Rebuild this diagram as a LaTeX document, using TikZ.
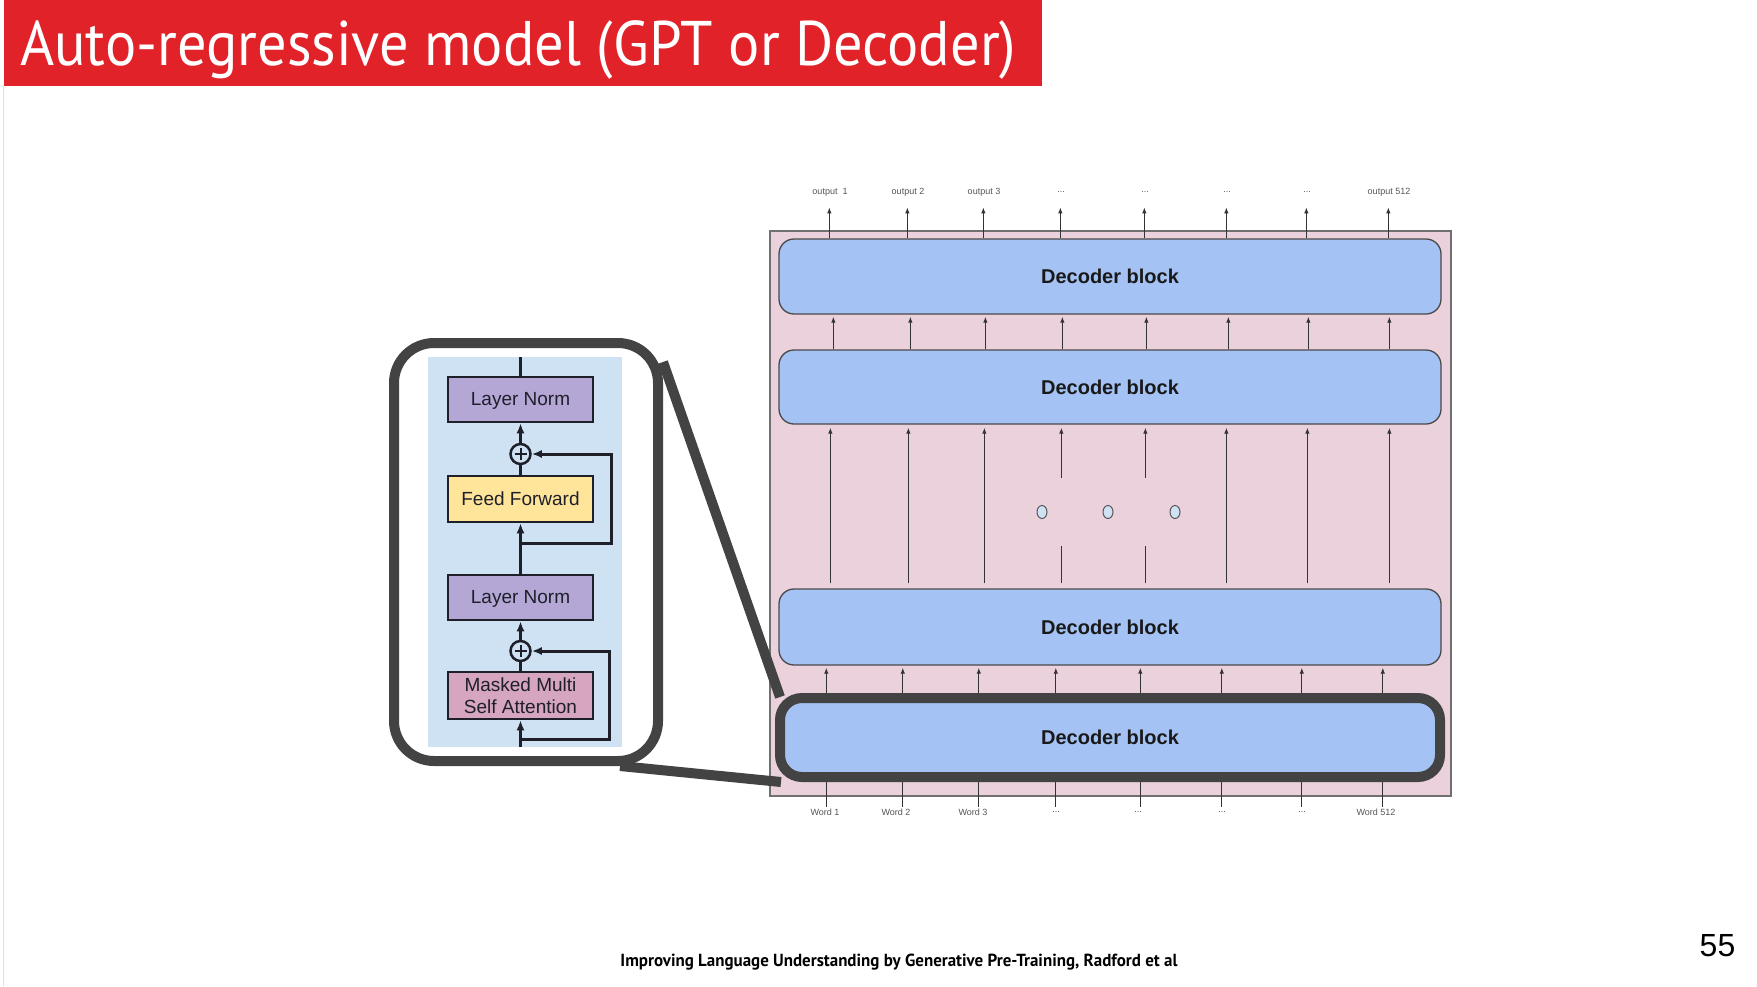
\documentclass[tikz,border=0pt]{standalone}
\usepackage{fontspec}
\setmainfont{Liberation Sans}
\newfontfamily\ptsans{PT Sans}
\usetikzlibrary{arrows.meta,calc,shapes.geometric}
\definecolor{slidered}{RGB}{225,34,41}
\definecolor{blockblue}{HTML}{A4C2F4}
\definecolor{blockborder}{HTML}{4A4A4A}
\definecolor{stackpink}{HTML}{EAD1DC}
\definecolor{stackborder}{HTML}{707070}
\definecolor{framegray}{HTML}{434343}
\definecolor{panelblue}{HTML}{CFE2F3}
\definecolor{lnpurple}{HTML}{B4A7D6}
\definecolor{ffyellow}{HTML}{FFE599}
\definecolor{msapink}{HTML}{D5A6BD}
\definecolor{paneltext}{HTML}{1F1F2A}
\definecolor{arrowgray}{HTML}{333333}
\definecolor{labelgray}{HTML}{555555}
\tikzset{
  dblock/.style={draw=blockborder, line width=1.3pt, fill=blockblue, rounded corners=15pt,
    minimum width=662pt, inner sep=0pt, font=\fontsize{20pt}{24pt}\selectfont\bfseries, text=black!90},
  tarrow/.style={draw=arrowgray, line width=1.1pt, -{Latex[length=6pt,width=4.5pt]}},
  tline/.style={draw=arrowgray, line width=1.1pt},
  tinylabel/.style={font=\fontsize{9pt}{10pt}\selectfont, text=labelgray, inner sep=0pt},
  panelbox/.style={draw=paneltext, line width=2.5pt, minimum width=145pt, inner sep=0pt,
    font=\fontsize{19pt}{21.7pt}\selectfont, text=paneltext, align=center},
  parrow/.style={line width=3pt, draw=paneltext, -{Latex[length=10pt,width=8pt]}},
  pline/.style={line width=3pt, draw=paneltext},
  plusnode/.style={circle, draw=paneltext, line width=2.5pt, fill=panelblue, minimum size=20pt, inner sep=0pt},
  dotnode/.style={ellipse, draw=labelgray, line width=1pt, fill=panelblue, minimum width=10pt, minimum height=13pt, inner sep=0pt},
  framestyle/.style={draw=framegray, line width=10pt},
}
\begin{document}
\begin{tikzpicture}[x=1pt,y=-1pt]
\useasboundingbox (0,0) rectangle (1757,986);
\fill[white] (0,0) rectangle (1757,986);
\draw[gray!25, line width=1pt] (3,86) -- (3,986);

% title
\node[fill=slidered, minimum width=1038.5pt, minimum height=86pt, inner sep=0pt] (titlebar) at (522.75,43) {};
\node[anchor=base west, inner sep=0pt, text=white] (title) at (20,65)
  {\resizebox{996pt}{\height}{\ptsans\fontsize{63pt}{70pt}\selectfont Auto-regressive model (GPT or Decoder)}};

% footer
\node[inner sep=0pt] (footer) at (899,962)
  {\resizebox{557pt}{\height}{\ptsans\bfseries\fontsize{17.5pt}{20pt}\selectfont Improving Language Understanding by Generative Pre-Training, Radford et al}};
\node[inner sep=0pt] (pagenum) at (1717.5,945.5) {\fontsize{32pt}{36pt}\selectfont 55};

% decoder stack
\node[fill=stackpink, draw=stackborder, line width=1.2pt, minimum width=681pt, minimum height=565pt, inner sep=0pt] (stack) at (1110.5,513.5) {};

\node[dblock, minimum height=75pt] (B1) at (1110,276.5) {Decoder block};
\node[dblock, minimum height=74pt] (B2) at (1110,387) {Decoder block};
\node[dblock, minimum height=76pt] (B3) at (1110,627) {Decoder block};

% outputs
\foreach \s/\lx/\t [count=\i] in {51/830/{output\ \ 1},129/908/{output 2},205/984/{output 3},282/1061/{...},366/1145/{...},448/1227/{...},528/1307/{...},610/1389/{output 512}}{
  \node[tinylabel] (o\i) at (\lx,192) {\t};
  \draw[tarrow] ([xshift=\s pt]B1.north west) -- ++(0,-31);
}
% B2 -> B1
\foreach \s in {55,132,207,284,368,450,530,611}{
  \draw[tarrow] ([xshift=\s pt]B2.north west) -- ([xshift=\s pt,yshift=-2pt]B1.south west);
}
% B3 -> B2 long arrows
\foreach \s in {52,130,206,448,529,611}{
  \draw[tarrow] ([xshift=\s pt,yshift=5pt]B3.north west) -- ([xshift=\s pt,yshift=-3pt]B2.south west);
}
\foreach \s in {283,367}{
  \draw[tline] ([xshift=\s pt,yshift=5pt]B3.north west) -- ([xshift=\s pt,yshift=42pt]B3.north west);
  \draw[tarrow] ([xshift=\s pt,yshift=-53pt]B2.south west) -- ([xshift=\s pt,yshift=-3pt]B2.south west);
}
\node[dotnode] (d1) at (1042,512) {};
\node[dotnode] (d2) at (1108,512) {};
\node[dotnode] (d3) at (1175,512) {};

% bottom block and inputs
\node[draw=none, fill=none, minimum width=660pt, minimum height=79pt, inner sep=0pt] (B4pos) at (1110,737.5) {};
\foreach \s/\lx/\t [count=\i] in {46.5/825/{Word 1},123/896/{Word 2},199/973/{Word 3},276/1056/{...},360.5/1138/{...},442/1222/{...},522/1302/{...},603/1376/{Word 512}}{
  \node[tinylabel] (w\i) at (\lx,812) {\t};
  \draw[tline] ([xshift=\s pt]B4pos.south west) -- ++(0,30);
  \draw[tarrow] ([xshift=\s pt]B4pos.north west) -- ([xshift=\s pt,yshift=-2pt]B3.south west -| B4pos.north west);
}
\node[draw=framegray, line width=10pt, fill=blockblue, rounded corners=22pt, minimum width=660pt, minimum height=79pt, inner sep=0pt,
  font=\fontsize{20pt}{24pt}\selectfont\bfseries, text=black!90] (B4) at (1110,737.5) {Decoder block};

% zoomed panel
\node[framestyle, rounded corners=40pt, minimum width=264pt, minimum height=418pt, inner sep=0pt] (zoomframe) at (526,552) {};
\node[fill=panelblue, minimum width=194pt, minimum height=390pt, inner sep=0pt] (panel) at (525,552) {};

\node[panelbox, fill=lnpurple, minimum height=45pt, text depth=2pt] (LN1) at (520.5,399.5) {Layer Norm};
\node[plusnode] (P1) at (520.5,454) {};
\node[panelbox, fill=ffyellow, minimum height=46pt] (FF) at (520.5,499) {Feed Forward};
\node[panelbox, fill=lnpurple, minimum height=45pt, text depth=2pt] (LN2) at (520.5,597.5) {Layer Norm};
\node[plusnode] (P2) at (520.5,651) {};
\node[panelbox, fill=msapink, minimum height=47pt] (MSA) at (520.5,695.5) {Masked Multi\\Self Attention};

\foreach \p in {P1,P2}{
  \draw[line width=2pt, paneltext] ([xshift=-6pt]\p.center) -- ([xshift=6pt]\p.center)
    ([yshift=-6pt]\p.center) -- ([yshift=6pt]\p.center);
}

\draw[pline] (LN1.north) -- (LN1.north |- panel.north);
\draw[parrow] (P1.north) -- (LN1.south);
\draw[pline] (FF.north) -- (P1.south);
\draw[parrow] (LN2.north) -- (FF.south);
\coordinate (r1) at (520.5,543);
\draw[parrow] (r1) -- ++(90.5,0) |- (P1.east);
\draw[parrow] (P2.north) -- (LN2.south);
\draw[pline] (MSA.north) -- (P2.south);
\draw[parrow] (MSA.south |- panel.south) -- (MSA.south);
\coordinate (r2) at (520.5,739);
\draw[parrow] (r2) -- ++(88.5,0) |- (P2.east);

% zoom connectors
\draw[framestyle] ([yshift=-24pt]zoomframe.north east) -- ([xshift=5pt,yshift=-4pt]B4.north west);
\draw[framestyle] ([xshift=94pt]zoomframe.south) -- ([xshift=6pt]B4.south west);
\end{tikzpicture}
\end{document}
